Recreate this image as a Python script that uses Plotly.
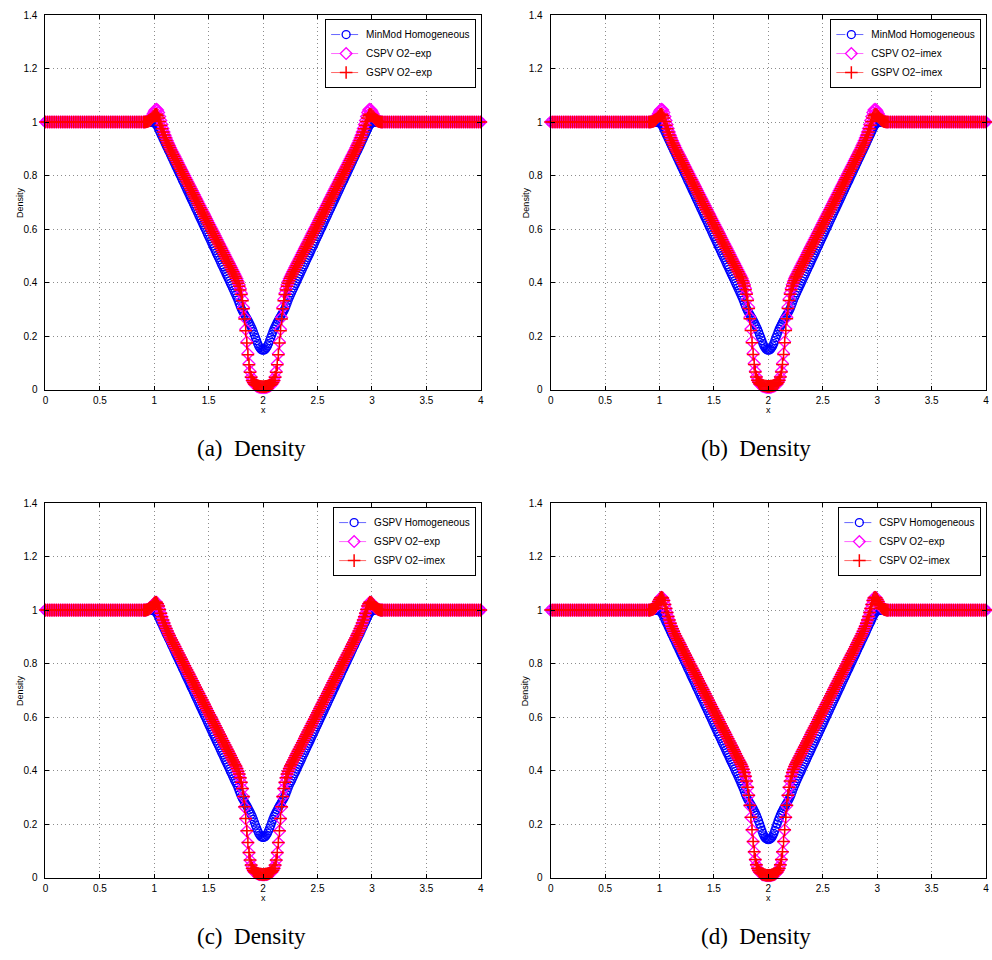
import numpy as np
import plotly.graph_objects as go

# ---------------- data ----------------
# sample positions along x: 0.02 spacing on the flat parts, 0.01 where the profile varies
x = np.round(np.concatenate([
    np.arange(0.0, 0.8801, 0.02),
    np.arange(0.90, 3.1001, 0.01),
    np.arange(3.12, 4.0001, 0.02),
]), 2)

flat_left = [1, 1, 1, 1, 1, 1, 1, 1, 1, 1, 1, 1, 1, 1, 1,
             1, 1, 1, 1, 1, 1, 1, 1, 1, 1, 1, 1, 1, 1, 1,
             1, 1, 1, 1, 1, 1, 1, 1, 1, 1, 1, 1, 1, 1, 1]      # x = 0.00 .. 0.88
flat_right = [1, 1, 1, 1, 1, 1, 1, 1, 1, 1, 1, 1, 1, 1, 1,
              1, 1, 1, 1, 1, 1, 1, 1, 1, 1, 1, 1, 1, 1, 1,
              1, 1, 1, 1, 1, 1, 1, 1, 1, 1, 1, 1, 1, 1, 1]     # x = 3.12 .. 4.00

# --- first-order (homogeneous) solutions: falling / rising ramps, x = 0.90..1.74 and 2.26..3.10
hom_ramp_left = [
    1.000, 1.000, 1.000, 1.000, 1.000, 1.000, 1.000, 1.000, 0.999, 0.999,
    0.997, 0.994, 0.990, 0.983, 0.974, 0.965, 0.956, 0.948, 0.939, 0.930,
    0.921, 0.912, 0.904, 0.895, 0.887, 0.878, 0.869, 0.861, 0.852, 0.843,
    0.834, 0.826, 0.817, 0.808, 0.800, 0.791, 0.782, 0.774, 0.765, 0.756,
    0.747, 0.739, 0.730, 0.721, 0.712, 0.704, 0.695, 0.686, 0.677, 0.669,
    0.660, 0.651, 0.642, 0.634, 0.625, 0.616, 0.607, 0.599, 0.590, 0.581,
    0.572, 0.564, 0.555, 0.546, 0.537, 0.529, 0.520, 0.511, 0.502, 0.494,
    0.485, 0.476, 0.467, 0.459, 0.450, 0.441, 0.432, 0.424, 0.415, 0.406,
    0.397, 0.389, 0.380, 0.371, 0.362,
]
hom_ramp_right = [
    0.362, 0.371, 0.380, 0.389, 0.397, 0.406, 0.415, 0.424, 0.432, 0.441,
    0.450, 0.459, 0.467, 0.476, 0.485, 0.494, 0.502, 0.511, 0.520, 0.529,
    0.537, 0.546, 0.555, 0.564, 0.572, 0.581, 0.590, 0.599, 0.607, 0.616,
    0.625, 0.634, 0.642, 0.651, 0.660, 0.669, 0.677, 0.686, 0.695, 0.704,
    0.712, 0.721, 0.730, 0.739, 0.747, 0.756, 0.765, 0.774, 0.782, 0.791,
    0.800, 0.808, 0.817, 0.826, 0.834, 0.843, 0.852, 0.861, 0.869, 0.878,
    0.887, 0.895, 0.904, 0.912, 0.921, 0.930, 0.939, 0.948, 0.956, 0.965,
    0.974, 0.983, 0.990, 0.994, 0.997, 0.999, 0.999, 1.000, 1.000, 1.000,
    1.000, 1.000, 1.000, 1.000, 1.000,
]
# --- GSPV second-order ramps (overshoot ~1.03)
gspv_ramp_left = [
    1.000, 1.000, 1.000, 1.001, 1.002, 1.004, 1.007, 1.011, 1.016, 1.021,
    1.026, 1.029, 1.029, 1.024, 1.015, 1.002, 0.988, 0.975, 0.963, 0.952,
    0.941, 0.931, 0.922, 0.913, 0.905, 0.896, 0.888, 0.880, 0.872, 0.864,
    0.856, 0.848, 0.840, 0.832, 0.824, 0.816, 0.808, 0.800, 0.792, 0.784,
    0.776, 0.768, 0.760, 0.752, 0.744, 0.736, 0.728, 0.720, 0.712, 0.704,
    0.696, 0.688, 0.680, 0.672, 0.664, 0.656, 0.648, 0.640, 0.632, 0.624,
    0.616, 0.608, 0.600, 0.592, 0.584, 0.576, 0.568, 0.560, 0.552, 0.544,
    0.536, 0.528, 0.520, 0.512, 0.504, 0.496, 0.488, 0.480, 0.472, 0.464,
    0.456, 0.448, 0.440, 0.432, 0.424,
]
gspv_ramp_right = [
    0.424, 0.432, 0.440, 0.448, 0.456, 0.464, 0.472, 0.480, 0.488, 0.496,
    0.504, 0.512, 0.520, 0.528, 0.536, 0.544, 0.552, 0.560, 0.568, 0.576,
    0.584, 0.592, 0.600, 0.608, 0.616, 0.624, 0.632, 0.640, 0.648, 0.656,
    0.664, 0.672, 0.680, 0.688, 0.696, 0.704, 0.712, 0.720, 0.728, 0.736,
    0.744, 0.752, 0.760, 0.768, 0.776, 0.784, 0.792, 0.800, 0.808, 0.816,
    0.824, 0.832, 0.840, 0.848, 0.856, 0.864, 0.872, 0.880, 0.888, 0.896,
    0.905, 0.913, 0.922, 0.931, 0.941, 0.952, 0.963, 0.975, 0.988, 1.002,
    1.015, 1.024, 1.029, 1.029, 1.026, 1.021, 1.016, 1.011, 1.007, 1.004,
    1.002, 1.001, 1.000, 1.000, 1.000,
]
# --- CSPV second-order ramps (overshoot ~1.05)
cspv_ramp_left = [
    1.000, 1.000, 1.001, 1.002, 1.003, 1.006, 1.010, 1.016, 1.024, 1.032,
    1.040, 1.046, 1.048, 1.045, 1.036, 1.021, 1.006, 0.991, 0.976, 0.963,
    0.951, 0.940, 0.930, 0.921, 0.912, 0.903, 0.895, 0.887, 0.879, 0.871,
    0.863, 0.855, 0.847, 0.839, 0.831, 0.823, 0.815, 0.807, 0.799, 0.791,
    0.783, 0.775, 0.767, 0.759, 0.751, 0.743, 0.735, 0.727, 0.719, 0.711,
    0.703, 0.695, 0.687, 0.679, 0.671, 0.663, 0.655, 0.647, 0.639, 0.631,
    0.623, 0.615, 0.607, 0.599, 0.591, 0.583, 0.575, 0.567, 0.559, 0.551,
    0.543, 0.535, 0.527, 0.519, 0.511, 0.503, 0.495, 0.487, 0.479, 0.471,
    0.463, 0.455, 0.447, 0.439, 0.431,
]
cspv_ramp_right = [
    0.431, 0.439, 0.447, 0.455, 0.463, 0.471, 0.479, 0.487, 0.495, 0.503,
    0.511, 0.519, 0.527, 0.535, 0.543, 0.551, 0.559, 0.567, 0.575, 0.583,
    0.591, 0.599, 0.607, 0.615, 0.623, 0.631, 0.639, 0.647, 0.655, 0.663,
    0.671, 0.679, 0.687, 0.695, 0.703, 0.711, 0.719, 0.727, 0.735, 0.743,
    0.751, 0.759, 0.767, 0.775, 0.783, 0.791, 0.799, 0.807, 0.815, 0.823,
    0.831, 0.839, 0.847, 0.855, 0.863, 0.871, 0.879, 0.887, 0.895, 0.903,
    0.912, 0.921, 0.930, 0.940, 0.951, 0.963, 0.976, 0.991, 1.006, 1.021,
    1.036, 1.045, 1.048, 1.046, 1.040, 1.032, 1.024, 1.016, 1.010, 1.006,
    1.003, 1.002, 1.001, 1.000, 1.000,
]

# --- central dips, x = 1.75 .. 2.25
minmod_hom_dip = [
    0.353, 0.344, 0.334, 0.323, 0.312, 0.302, 0.294, 0.287, 0.280, 0.273,
    0.266, 0.259, 0.251, 0.243, 0.235, 0.226, 0.216, 0.205, 0.194, 0.183,
    0.172, 0.163, 0.156, 0.151, 0.148, 0.147, 0.148, 0.151, 0.156, 0.163,
    0.172, 0.183, 0.194, 0.205, 0.216, 0.226, 0.235, 0.243, 0.251, 0.259,
    0.266, 0.273, 0.280, 0.287, 0.294, 0.302, 0.312, 0.323, 0.334, 0.344,
    0.353,
]
gspv_hom_dip = [
    0.355, 0.346, 0.336, 0.325, 0.314, 0.304, 0.296, 0.289, 0.282, 0.275,
    0.268, 0.261, 0.253, 0.245, 0.237, 0.228, 0.218, 0.207, 0.196, 0.185,
    0.175, 0.166, 0.159, 0.154, 0.151, 0.150, 0.151, 0.154, 0.159, 0.166,
    0.175, 0.185, 0.196, 0.207, 0.218, 0.228, 0.237, 0.245, 0.253, 0.261,
    0.268, 0.275, 0.282, 0.289, 0.296, 0.304, 0.314, 0.325, 0.336, 0.346,
    0.355,
]
cspv_hom_dip = [
    0.352, 0.343, 0.333, 0.322, 0.311, 0.301, 0.293, 0.286, 0.279, 0.272,
    0.265, 0.258, 0.250, 0.242, 0.233, 0.223, 0.212, 0.200, 0.188, 0.176,
    0.165, 0.156, 0.149, 0.145, 0.143, 0.142, 0.143, 0.145, 0.149, 0.156,
    0.165, 0.176, 0.188, 0.200, 0.212, 0.223, 0.233, 0.242, 0.250, 0.258,
    0.265, 0.272, 0.279, 0.286, 0.293, 0.301, 0.311, 0.322, 0.333, 0.343,
    0.352,
]
gspv_exp_dip = [
    0.416, 0.407, 0.397, 0.386, 0.372, 0.355, 0.332, 0.302, 0.264, 0.220,
    0.174, 0.130, 0.093, 0.065, 0.046, 0.034, 0.026, 0.021, 0.018, 0.016,
    0.014, 0.013, 0.012, 0.012, 0.011, 0.011, 0.011, 0.012, 0.012, 0.013,
    0.014, 0.016, 0.018, 0.021, 0.026, 0.034, 0.046, 0.065, 0.093, 0.130,
    0.174, 0.220, 0.264, 0.302, 0.332, 0.355, 0.372, 0.386, 0.397, 0.407,
    0.416,
]
gspv_imex_dip = [
    0.417, 0.408, 0.398, 0.387, 0.373, 0.356, 0.333, 0.303, 0.265, 0.221,
    0.175, 0.131, 0.094, 0.066, 0.047, 0.035, 0.027, 0.022, 0.019, 0.017,
    0.015, 0.014, 0.013, 0.013, 0.012, 0.012, 0.012, 0.013, 0.013, 0.014,
    0.015, 0.017, 0.019, 0.022, 0.027, 0.035, 0.047, 0.066, 0.094, 0.131,
    0.175, 0.221, 0.265, 0.303, 0.333, 0.356, 0.373, 0.387, 0.398, 0.408,
    0.417,
]
cspv_exp_dip = [
    0.423, 0.414, 0.404, 0.392, 0.378, 0.360, 0.337, 0.307, 0.269, 0.225,
    0.178, 0.134, 0.096, 0.067, 0.047, 0.034, 0.026, 0.020, 0.016, 0.013,
    0.011, 0.010, 0.009, 0.008, 0.008, 0.008, 0.008, 0.008, 0.009, 0.010,
    0.011, 0.013, 0.016, 0.020, 0.026, 0.034, 0.047, 0.067, 0.096, 0.134,
    0.178, 0.225, 0.269, 0.307, 0.337, 0.360, 0.378, 0.392, 0.404, 0.414,
    0.423,
]
cspv_imex_dip = [
    0.424, 0.415, 0.405, 0.393, 0.379, 0.361, 0.338, 0.308, 0.270, 0.226,
    0.179, 0.135, 0.097, 0.068, 0.048, 0.035, 0.027, 0.021, 0.017, 0.014,
    0.012, 0.011, 0.010, 0.009, 0.009, 0.009, 0.009, 0.009, 0.010, 0.011,
    0.012, 0.014, 0.017, 0.021, 0.027, 0.035, 0.048, 0.068, 0.097, 0.135,
    0.179, 0.226, 0.270, 0.308, 0.338, 0.361, 0.379, 0.393, 0.405, 0.415,
    0.424,
]

minmod_hom = flat_left + hom_ramp_left + minmod_hom_dip + hom_ramp_right + flat_right
gspv_hom = flat_left + hom_ramp_left + gspv_hom_dip + hom_ramp_right + flat_right
cspv_hom = flat_left + hom_ramp_left + cspv_hom_dip + hom_ramp_right + flat_right
gspv_exp = flat_left + gspv_ramp_left + gspv_exp_dip + gspv_ramp_right + flat_right
gspv_imex = flat_left + gspv_ramp_left + gspv_imex_dip + gspv_ramp_right + flat_right
cspv_exp = flat_left + cspv_ramp_left + cspv_exp_dip + cspv_ramp_right + flat_right
cspv_imex = flat_left + cspv_ramp_left + cspv_imex_dip + cspv_ramp_right + flat_right

for _s in (minmod_hom, gspv_hom, cspv_hom, gspv_exp, gspv_imex, cspv_exp, cspv_imex):
    assert len(_s) == len(x), (len(_s), len(x))

x_ticks = [0, 0.5, 1, 1.5, 2, 2.5, 3, 3.5, 4]
y_ticks = [0, 0.2, 0.4, 0.6, 0.8, 1, 1.2, 1.4]

panels = [
    dict(letter="a", series=[("MinMod Homogeneous", minmod_hom),
                             ("CSPV O2\u2212exp", cspv_exp),
                             ("GSPV O2\u2212exp", gspv_exp)]),
    dict(letter="b", series=[("MinMod Homogeneous", minmod_hom),
                             ("CSPV O2\u2212imex", cspv_imex),
                             ("GSPV O2\u2212imex", gspv_imex)]),
    dict(letter="c", series=[("GSPV Homogeneous", gspv_hom),
                             ("GSPV O2\u2212exp", gspv_exp),
                             ("GSPV O2\u2212imex", gspv_imex)]),
    dict(letter="d", series=[("CSPV Homogeneous", cspv_hom),
                             ("CSPV O2\u2212exp", cspv_exp),
                             ("CSPV O2\u2212imex", cspv_imex)]),
]

# ---------------- layout / style ----------------
W, H = 992, 960
# plot-area boxes in pixels: (left, right, top, bottom)
boxes = [(42.7, 480.7, 10.2, 389.0), (551.0, 989.0, 10.2, 389.0),
         (42.7, 480.7, 503.9, 882.7), (551.0, 989.0, 503.9, 882.7)]

styles = [
    dict(color="#0000ff", symbol="circle-open", size=8, lw=1.3),
    dict(color="#ff00ff", symbol="diamond-open", size=9, lw=1.3),
    dict(color="#ff0000", symbol="cross-thin-open", size=9, lw=1.5),
]

SANS = "Liberation Sans, Arial, Helvetica, sans-serif"
SERIF = "Liberation Serif, Times New Roman, serif"

fig = go.Figure()
layout = dict(width=W, height=H, margin=dict(l=0, r=0, t=0, b=0),
              paper_bgcolor="white", plot_bgcolor="white", showlegend=True,
              annotations=[])

for i, (p, box) in enumerate(zip(panels, boxes)):
    k = "" if i == 0 else str(i + 1)
    xa, ya = "x" + k, "y" + k
    leg = "legend" + k
    l, r, t, b = box
    for (name, vals), st in zip(p["series"], styles):
        fig.add_trace(go.Scatter(
            x=x, y=vals, name=name, mode="lines+markers",
            xaxis=xa, yaxis=ya, legend=leg, cliponaxis=False,
            line=dict(color=st["color"], width=0.6, dash="dash"),
            marker=dict(symbol=st["symbol"], size=st["size"], color=st["color"],
                        line=dict(color=st["color"], width=st["lw"])),
        ))
    axis_common = dict(showline=True, linecolor="black", linewidth=1, mirror="ticks",
                       ticks="inside", ticklen=4, tickcolor="black", tickwidth=1,
                       showgrid=True, gridcolor="#8c8c8c", gridwidth=1, griddash="1px,3px",
                       zeroline=False, tickfont=dict(family=SANS, size=10, color="black"))
    layout["xaxis" + k] = dict(axis_common, domain=[l / W, r / W], range=[0, 4],
                               tickmode="array", tickvals=x_ticks, ticklabelstandoff=1,
                               ticktext=[f"{v:g}" for v in x_ticks], anchor=ya)
    layout["yaxis" + k] = dict(axis_common, domain=[1 - b / H, 1 - t / H], range=[0, 1.4],
                               tickmode="array", tickvals=y_ticks, ticklabelstandoff=5,
                               ticktext=[f"{v:g}" for v in y_ticks], anchor=xa)
    layout[leg] = dict(x=(r - 4.7) / W, y=1 - (t + 4) / H, xanchor="right", yanchor="top",
                       bgcolor="white", bordercolor="black", borderwidth=1,
                       font=dict(family=SANS, size=10, color="black"),
                       itemwidth=30, tracegroupgap=0)
    cx = (l + r) / 2
    layout["annotations"] += [
        dict(text="Density", x=(l - 25) / W, y=1 - ((t + b) / 2) / H, xref="paper", yref="paper",
             textangle=-90, showarrow=False, xanchor="center", yanchor="middle",
             font=dict(family=SANS, size=9, color="black")),
        dict(text="x", x=cx / W, y=1 - (b + 21) / H, xref="paper", yref="paper",
             showarrow=False, xanchor="center", yanchor="middle",
             font=dict(family=SANS, size=9, color="black")),
        dict(text=f"({p['letter']})\u00a0\u00a0Density", x=(cx - 12) / W, y=1 - (b + 60) / H,
             xref="paper", yref="paper", showarrow=False, xanchor="center", yanchor="middle",
             font=dict(family=SERIF, size=23, color="black")),
    ]

fig.update_layout(**layout)
fig.write_html("out.html")
